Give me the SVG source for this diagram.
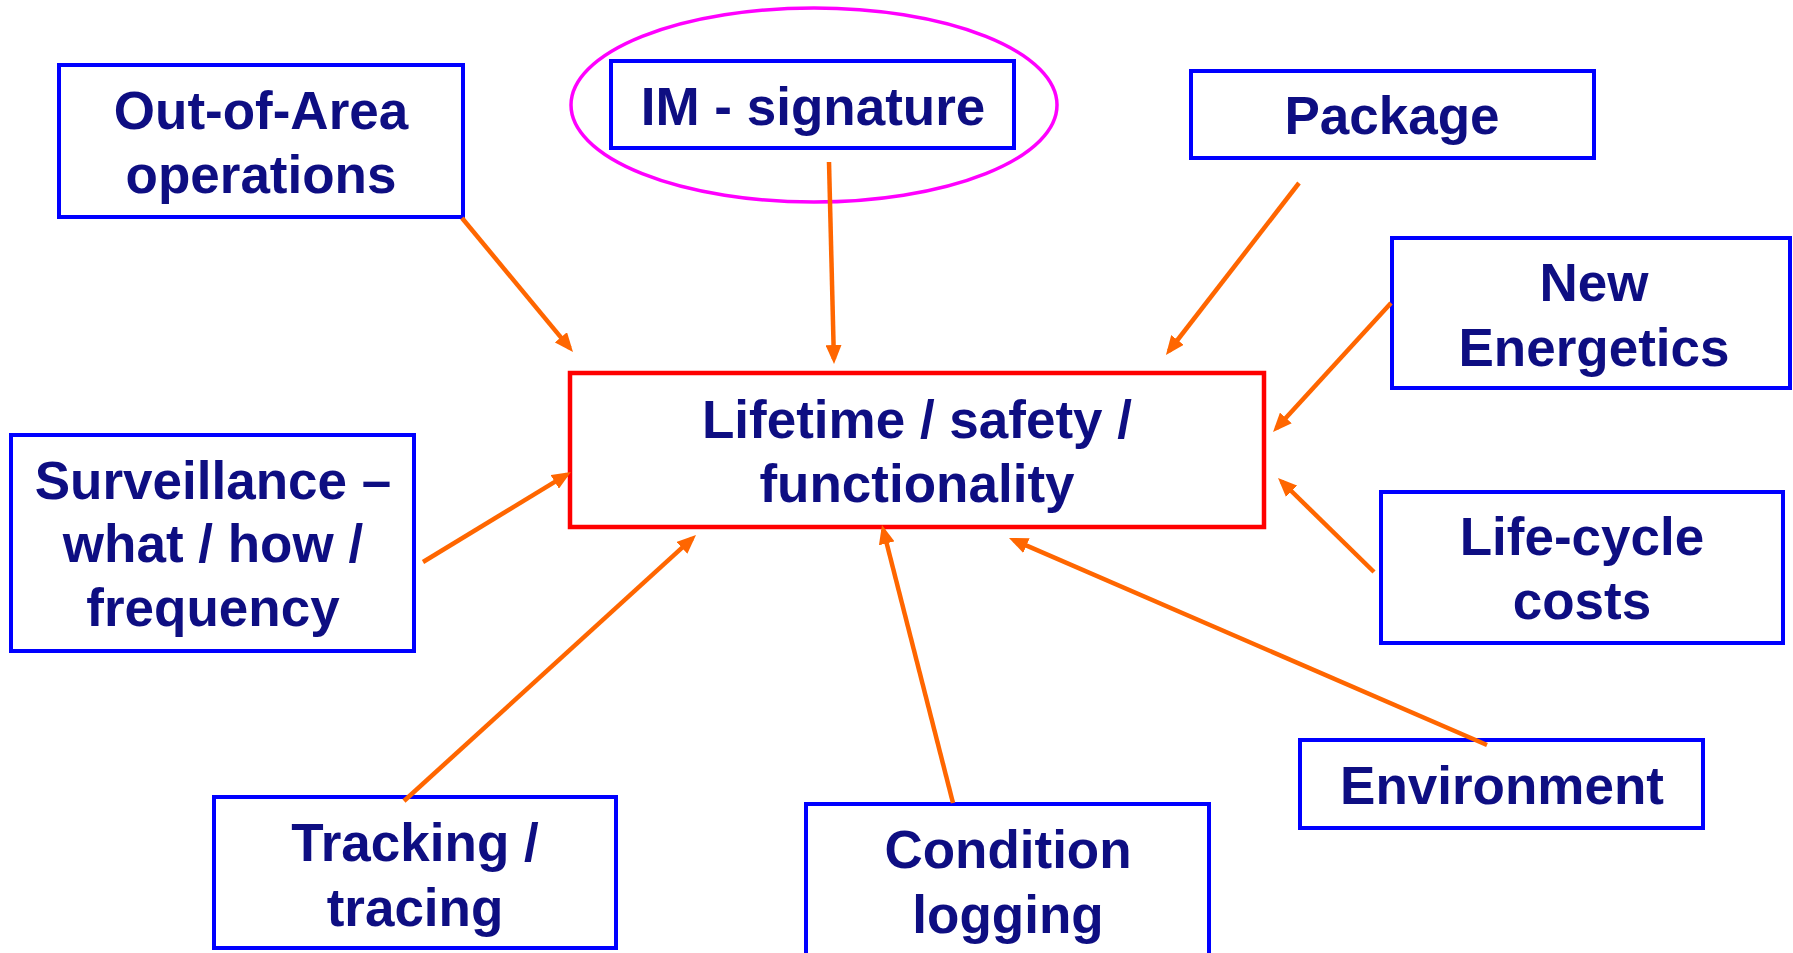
<svg xmlns="http://www.w3.org/2000/svg" width="1793" height="953" viewBox="0 0 1793 953">
<style>
.box{fill:#FFFFFF;stroke:#0000FF;stroke-width:4}
.main{fill:#FFFFFF;stroke:#FF0000;stroke-width:4.5}
.ell{fill:none;stroke:#FF00FF;stroke-width:3.5}
.t{font-family:"Liberation Sans",Arial,sans-serif;font-weight:bold;font-size:53px;fill:#0E0E82;text-anchor:middle}
.c{stroke:#FF6600;stroke-width:4.5;fill:none;marker-end:url(#ah)}
</style>
<defs>
<marker id="ah" markerUnits="userSpaceOnUse" markerWidth="19" markerHeight="16" viewBox="0 0 19 16" refX="14" refY="8" orient="auto">
<path d="M0,0 L19,8 L0,16 Z" fill="#FF6600"/>
</marker>
</defs>
<rect width="1793" height="953" fill="#FFFFFF"/>
<g id="n-outofarea">
<rect class="box" x="59" y="65" width="404" height="152"/>
<text class="t" x="261" y="129">Out-of-Area</text>
<text class="t" x="261" y="193">operations</text>
</g>
<g id="n-im">
<ellipse class="ell" cx="814" cy="105" rx="243" ry="97"/>
<rect class="box" x="611" y="61" width="403" height="87"/>
<text class="t" x="813" y="125">IM - signature</text>
</g>
<g id="n-package">
<rect class="box" x="1191" y="71" width="403" height="87"/>
<text class="t" x="1392" y="134">Package</text>
</g>
<g id="n-energetics">
<rect class="box" x="1392" y="238" width="398" height="150"/>
<text class="t" x="1594" y="301">New</text>
<text class="t" x="1594" y="366">Energetics</text>
</g>
<g id="n-main">
<rect class="main" x="570" y="373" width="694" height="154"/>
<text class="t" x="917" y="438">Lifetime / safety /</text>
<text class="t" x="917" y="502">functionality</text>
</g>
<g id="n-surveillance">
<rect class="box" x="11" y="435" width="403" height="216"/>
<text class="t" x="213" y="499">Surveillance –</text>
<text class="t" x="213" y="562">what / how /</text>
<text class="t" x="213" y="626">frequency</text>
</g>
<g id="n-lifecycle">
<rect class="box" x="1381" y="492" width="402" height="151"/>
<text class="t" x="1582" y="555">Life-cycle</text>
<text class="t" x="1582" y="619">costs</text>
</g>
<g id="n-environment">
<rect class="box" x="1300" y="740" width="403" height="88"/>
<text class="t" x="1502" y="804">Environment</text>
</g>
<g id="n-tracking">
<rect class="box" x="214" y="797" width="402" height="151"/>
<text class="t" x="415" y="861">Tracking /</text>
<text class="t" x="415" y="926">tracing</text>
</g>
<g id="n-condition">
<rect class="box" x="806" y="804" width="403" height="170"/>
<text class="t" x="1008" y="868">Condition</text>
<text class="t" x="1008" y="933">logging</text>
</g>
<g id="connectors">
<line class="c" x1="462" y1="218" x2="569.8" y2="348.1"/>
<line class="c" x1="829" y1="162" x2="833.9" y2="359"/>
<line class="c" x1="1299" y1="183" x2="1169" y2="351"/>
<line class="c" x1="1391" y1="303" x2="1276.4" y2="428.3"/>
<line class="c" x1="423" y1="562" x2="566.7" y2="474.6"/>
<line class="c" x1="404" y1="801" x2="692.3" y2="538.4"/>
<line class="c" x1="953" y1="803" x2="883.2" y2="529.8"/>
<line class="c" x1="1487" y1="745" x2="1013.6" y2="540"/>
<line class="c" x1="1374" y1="572" x2="1281.6" y2="481.5"/>
</g>
</svg>
